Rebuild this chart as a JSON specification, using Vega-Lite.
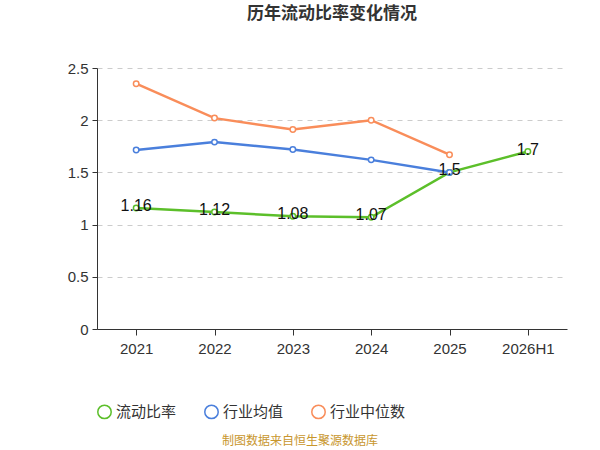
{
  "$schema": "https://vega.github.io/schema/vega-lite/v6.json",
  "width": 470,
  "height": 261,
  "autosize": {"type": "none"},
  "padding": {"left": 97, "top": 68, "right": 33, "bottom": 121},
  "background": "white",
  "config": {"view": {"stroke": null}},
  "title": {"text": "历年流动比率变化情况", "fontSize": 17, "fontWeight": "bold", "font": "Noto Sans CJK SC", "color": "#333", "anchor": "middle", "frame": "group", "offset": 38},
  "data": {
    "values": [
      {"year": "2021", "series": "流动比率", "value": 1.16},
      {"year": "2022", "series": "流动比率", "value": 1.12},
      {"year": "2023", "series": "流动比率", "value": 1.08},
      {"year": "2024", "series": "流动比率", "value": 1.07},
      {"year": "2025", "series": "流动比率", "value": 1.5},
      {"year": "2026H1", "series": "流动比率", "value": 1.7},
      {"year": "2021", "series": "行业均值", "value": 1.715},
      {"year": "2022", "series": "行业均值", "value": 1.79},
      {"year": "2023", "series": "行业均值", "value": 1.72},
      {"year": "2024", "series": "行业均值", "value": 1.62},
      {"year": "2025", "series": "行业均值", "value": 1.5},
      {"year": "2021", "series": "行业中位数", "value": 2.35},
      {"year": "2022", "series": "行业中位数", "value": 2.02},
      {"year": "2023", "series": "行业中位数", "value": 1.91},
      {"year": "2024", "series": "行业中位数", "value": 2.0},
      {"year": "2025", "series": "行业中位数", "value": 1.67}
    ]
  },
  "encoding": {
    "x": {"field": "year", "type": "ordinal", "title": null,
      "axis": {"labelAngle": 0, "labelFontSize": 15, "labelColor": "#333", "domainColor": "#333", "tickColor": "#333", "bandPosition": 0, "labelPadding": 6, "tickSize": 6}},
    "y": {"field": "value", "type": "quantitative", "title": null, "scale": {"domain": [0, 2.5]},
      "axis": {"values": [0, 0.5, 1, 1.5, 2, 2.5], "format": "~g", "labelFontSize": 15, "labelColor": "#333", "domain": true, "domainColor": "#333", "tickColor": "#333", "gridDash": [5, 5], "gridColor": "#ccc", "labelPadding": 4}},
    "color": {"field": "series", "type": "nominal", "title": null,
      "scale": {"domain": ["流动比率", "行业均值", "行业中位数"], "range": ["#5cbf2a", "#4a7fdc", "#f98d5a"]},
      "legend": {"orient": "bottom", "direction": "horizontal", "offset": 48, "labelFontSize": 15, "labelColor": "#333", "symbolType": "circle", "symbolSize": 180, "symbolStrokeWidth": 1.5, "columnPadding": 24, "labelFont": "Noto Sans CJK SC"}}
  },
  "layer": [
    {"mark": {"type": "line", "strokeWidth": 2.5}},
    {"mark": {"type": "point", "filled": false, "fill": "white", "fillOpacity": 1, "opacity": 1, "size": 30, "strokeWidth": 1.5}},
    {"transform": [{"filter": "datum.series === '流动比率'"}],
      "mark": {"type": "text", "fontSize": 16, "dy": -2},
      "encoding": {"text": {"field": "value", "type": "quantitative"}, "color": {"value": "#111"}}},
    {"data": {"values": [{"t": "制图数据来自恒生聚源数据库"}]},
      "mark": {"type": "text", "fontSize": 12, "font": "Noto Sans CJK SC"},
      "encoding": {"text": {"field": "t"}, "x": {"value": 203}, "y": {"value": 373}, "color": {"value": "#c8962d"}}}
  ]
}
